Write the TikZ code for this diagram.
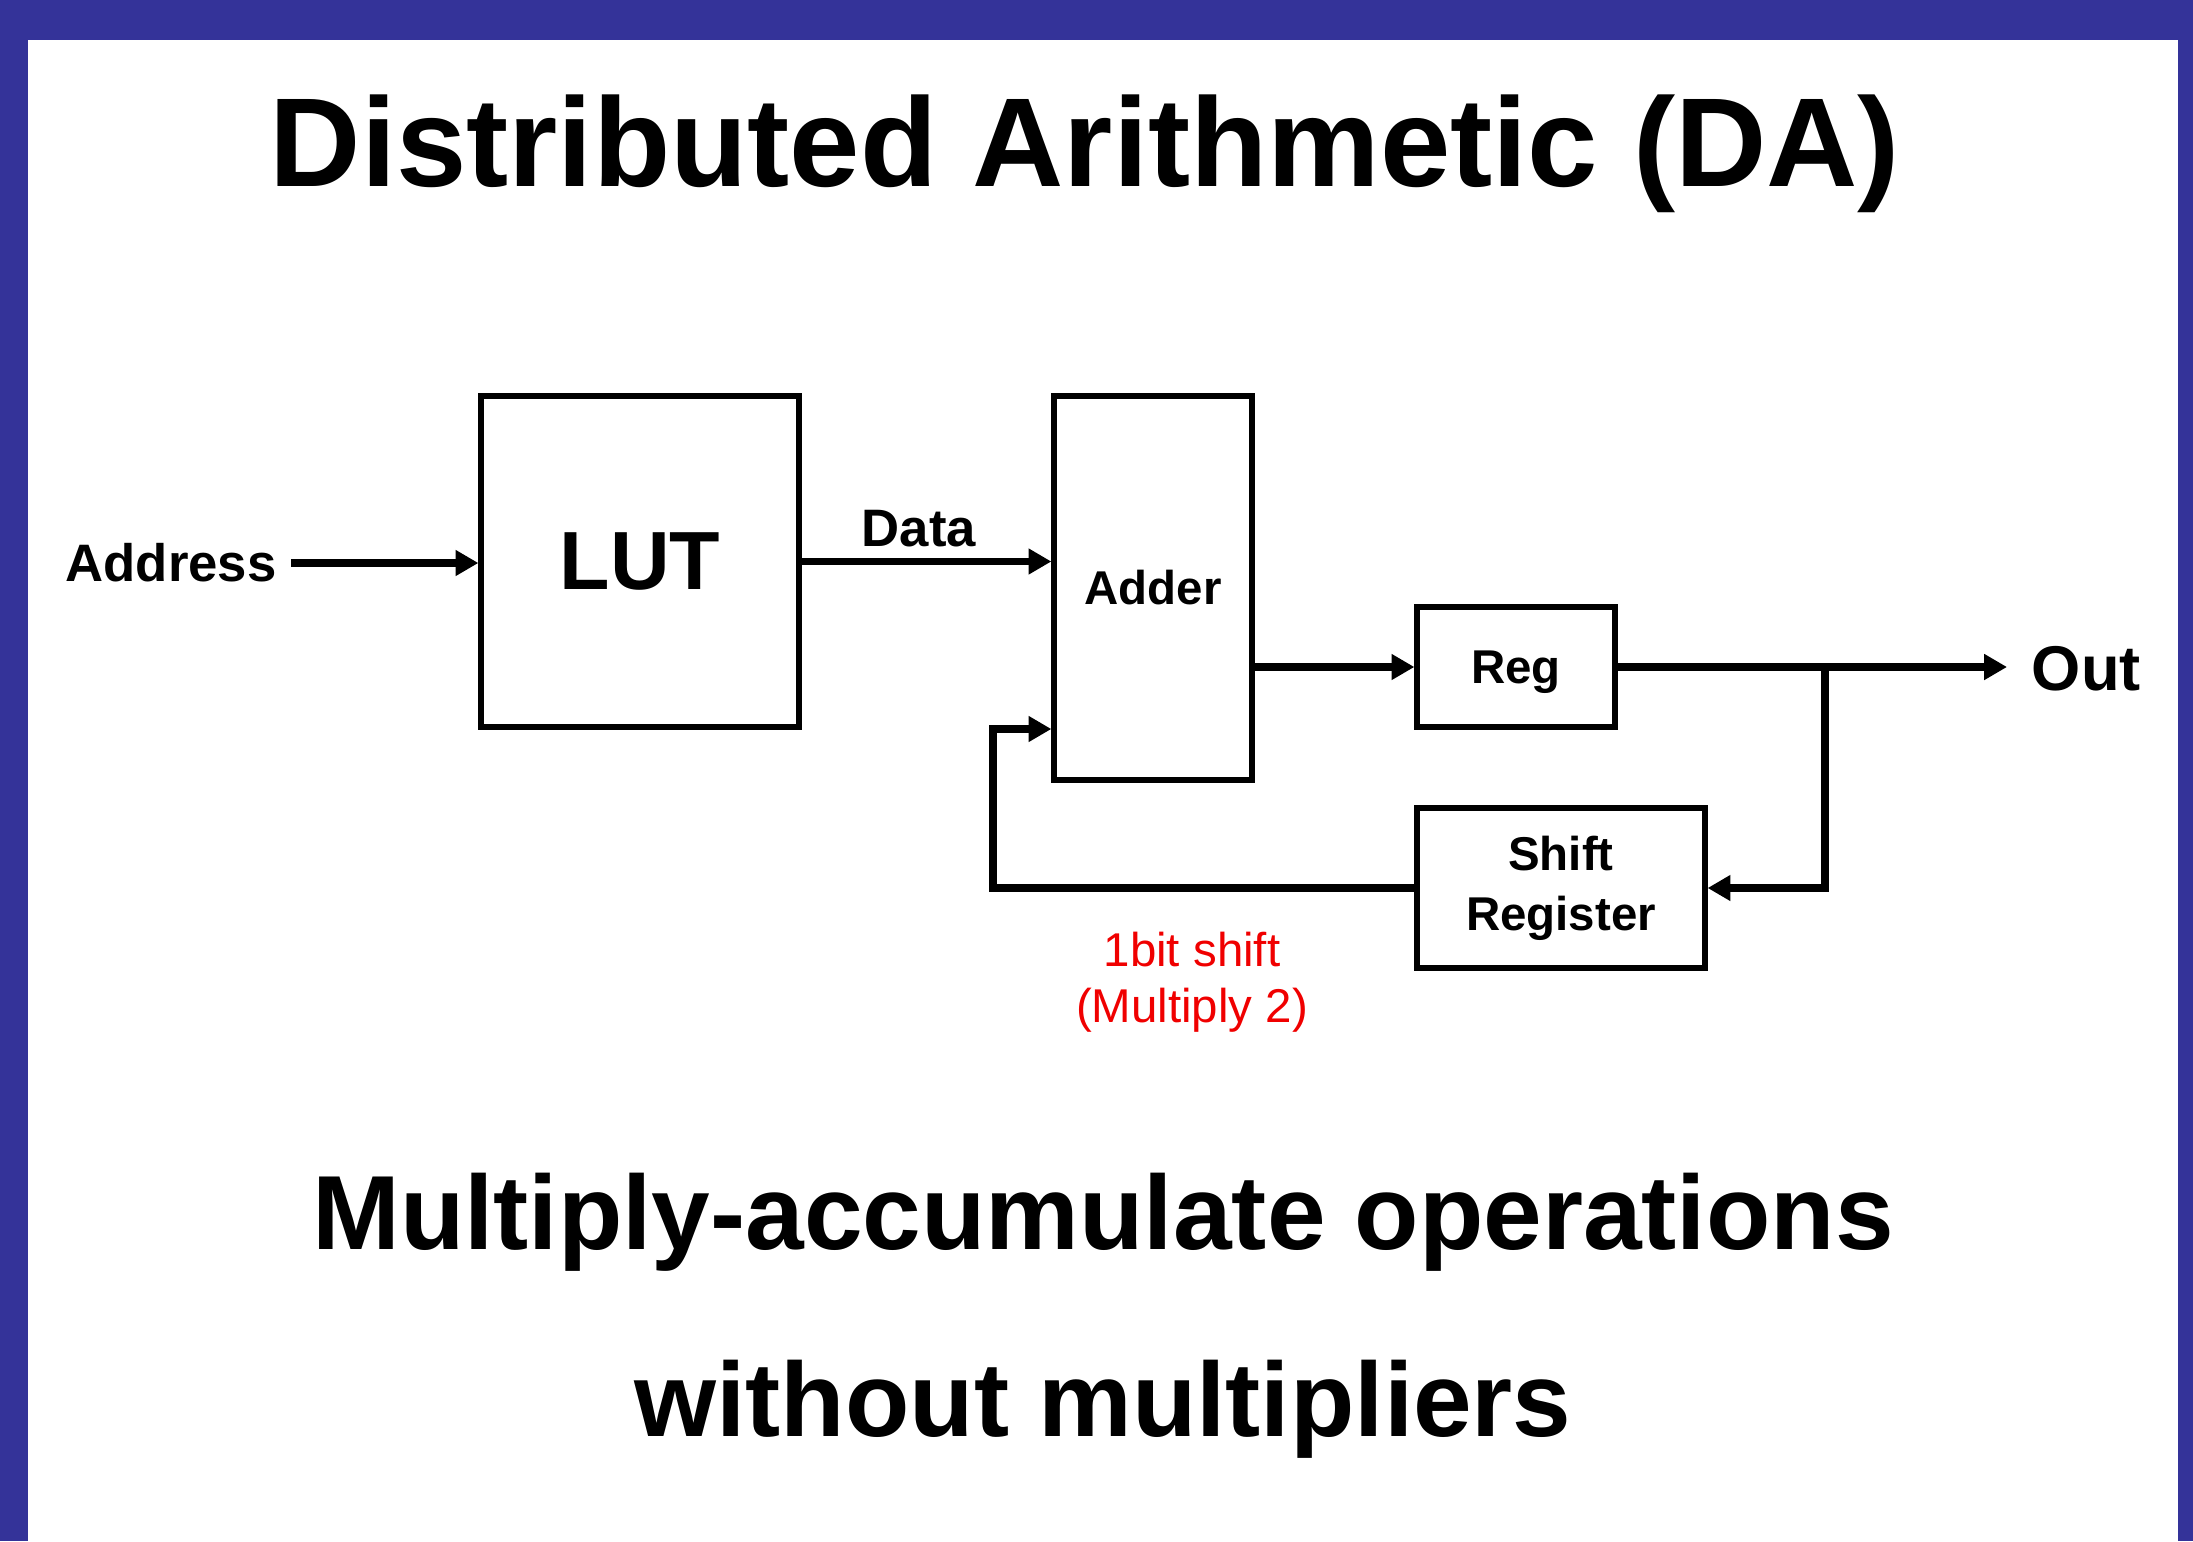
\documentclass[tikz,border=0pt]{standalone}
\usepackage{fontspec}
\setmainfont{Liberation Sans}
\usetikzlibrary{arrows.meta}
\definecolor{slideblue}{RGB}{52,51,153}
\definecolor{noteRed}{RGB}{240,0,0}
\tikzset{
  block/.style={draw, line width=3pt, inner sep=0pt, font=\bfseries\fontsize{27}{34}\selectfont},
  wire/.style={line width=4.2pt, -{Triangle[length=13pt,width=14pt]}},
  lbl/.style={font=\bfseries\fontsize{30}{36}\selectfont},
}
\begin{document}
\begin{tikzpicture}[x=0.02cm, y=-0.02cm]
        \fill [slideblue] (0,0) rectangle (2193,1541);
        \fill [white] (28,40) rectangle (2178,1541);

        \node [anchor=base, font=\bfseries\fontsize{72}{86}\selectfont] (title) at (1085,186) {Distributed Arithmetic (DA)};

        \node [block, minimum width=6.36cm, minimum height=6.62cm, font=\bfseries\fontsize{47}{56}\selectfont] (lut) at (640,561.5) {LUT};
        \node [block, minimum width=3.96cm, minimum height=7.68cm] (adder) at (1153,588) {Adder};
        \node [block, minimum width=3.96cm, minimum height=2.4cm, text depth=0pt] (reg) at (1516,667) {Reg};
        \node [block, minimum width=5.76cm, minimum height=3.2cm, align=center] (shreg) at (1561,888) {Shift\\Register};

        \node [lbl, anchor=east, inner xsep=8pt] (addr) at (291,563) {Address};
        \node [lbl] (data) at (919,529) {Data};
        \node [lbl, anchor=west, inner xsep=14pt, font=\bfseries\fontsize{36}{43}\selectfont] (out) at (2007,669) {Out};
        \node [align=center, text=noteRed, font=\fontsize{27}{32}\selectfont] (note) at (1192,982) {1bit shift\\(Multiply 2)};

        \coordinate (tap) at (1825,669);
        \coordinate (fb) at (993,729);

        \draw [wire] (addr.east) -- (addr.east -| lut.west);
        \draw [wire] (lut.east) -- (lut.east -| adder.west);
        \draw [wire] (adder.east |- reg.west) -- (reg.west);
        \draw [wire] (reg.east) -- (reg.east -| out.west);
        \draw [wire] (tap) |- (shreg.east);
        \draw [wire] (shreg.west) -| (fb) -- (fb -| adder.west);

        \node [anchor=base, font=\bfseries\fontsize{60}{72}\selectfont] (sub1) at (1103,1249) {Multiply-accumulate operations};
        \node [anchor=base, font=\bfseries\fontsize{60}{72}\selectfont] (sub2) at (1103,1436) {without multipliers};
      \end{tikzpicture}
\end{document}
